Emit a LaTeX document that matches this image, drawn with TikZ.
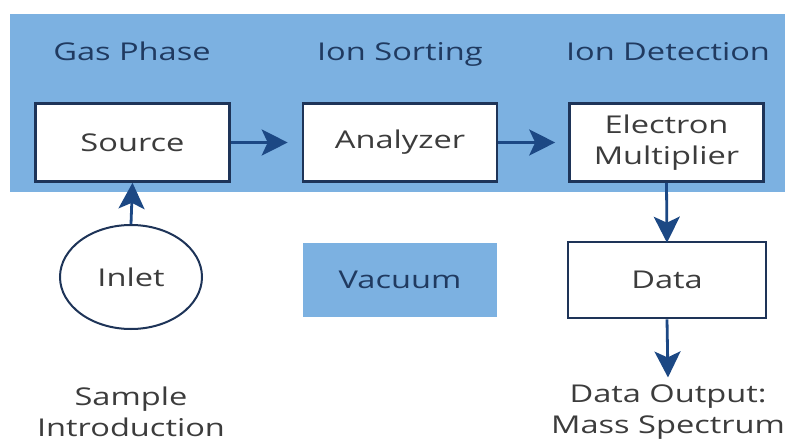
\documentclass[tikz,border=0pt]{standalone}
\usepackage{fontspec}
\setmainfont[FakeStretch=1.33]{Open Sans}
\usetikzlibrary{arrows.meta,shapes.geometric}
\definecolor{band}{RGB}{124,177,225}
\definecolor{navy}{RGB}{30,52,88}
\definecolor{arrowblue}{RGB}{28,72,132}
\definecolor{txtgray}{RGB}{60,60,60}
\definecolor{headblue}{RGB}{32,58,96}
\tikzset{
  labelfont/.style={font=\fontsize{24.5}{31}\selectfont},
  stagebox/.style={draw=navy, line width=2.6pt, fill=white, minimum width=194pt,
    minimum height=78pt, inner sep=0pt, text=txtgray, labelfont, align=center},
  header/.style={text=headblue, labelfont, inner sep=0pt, anchor=base},
  caption/.style={text=txtgray, labelfont, align=center, inner sep=0pt},
  flow/.style={draw=arrowblue, line width=2.8pt,
    -{Stealth[length=26pt, width=26pt, inset=6pt]}}
}
\begin{document}
\begin{tikzpicture}[x=1pt,y=-1pt]
  \useasboundingbox (0,0) rectangle (785,442);
  % vacuum band behind the three stages
  \fill[band] (10,14) rectangle (785,192);

  \node[header] (hgas) at (132,60) {Gas Phase};
  \node[header] (hsort) at (400,60) {Ion Sorting};
  \node[header] (hdet) at (668,60) {Ion Detection};

  \node[stagebox] (source) at (132.5,142.5) {Source};
  \node[stagebox] (analyzer) at (400,142.5) {Analyzer};
  \node[stagebox] (em) at (666.5,142.5) {Electron\\Multiplier};
  \node[stagebox, minimum height=76pt, minimum width=198pt] (data) at (667,280) {Data};

  \node[draw=navy, line width=2pt, ellipse, minimum width=142pt, minimum height=104pt,
        inner sep=0pt, text=txtgray, labelfont] (inlet) at (131,277) {Inlet};

  \node[fill=band, minimum width=194pt, minimum height=74pt, inner sep=0pt,
        text=headblue, labelfont] (vacuum) at (400,280) {Vacuum};

  \node[caption] (sample) at (131,412) {Sample\\Introduction};
  \node[caption] (output) at (668,412) {Data Output:\\Mass Spectrum};

  \draw[flow] (source.east) -- ([xshift=-14pt]analyzer.west);
  \draw[flow] (analyzer.east) -- ([xshift=-13pt]em.west);
  \draw[flow] (inlet.north) -- (source.south);
  \draw[flow] (em.south) -- ([yshift=-2pt]data.north);
  \draw[flow] (data.south) -- ([yshift=7pt]output.north);
\end{tikzpicture}
\end{document}
